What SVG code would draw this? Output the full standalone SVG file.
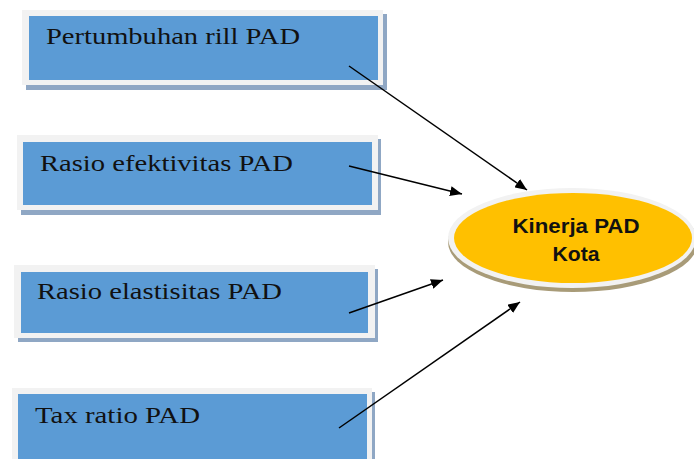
<svg xmlns="http://www.w3.org/2000/svg" width="694" height="459" viewBox="0 0 694 459">
<defs>
<marker id="ah" viewBox="0 0 12 10" refX="12" refY="5" markerWidth="12" markerHeight="10" markerUnits="userSpaceOnUse" orient="auto">
<path d="M0,0 L12,5 L0,10 Z" fill="#000"/>
</marker>
</defs>
<style>
.shadow{fill:#8FA7C4}
.frame{fill:#F2F2F2}
.box{fill:#5B9BD5}
.lbl{font-family:"Liberation Serif","Times New Roman",serif;font-size:24px;fill:#111}
.conn{stroke:#000;stroke-width:1.5;fill:none;marker-end:url(#ah)}
.ell{font-family:"Liberation Sans",Arial,sans-serif;font-weight:bold;font-size:20px;fill:#111;text-anchor:middle}
</style>
<rect width="694" height="459" fill="#fff"/>
<g id="n1">
<rect class="shadow" x="26" y="14" width="361" height="76"/>
<rect class="frame" x="22" y="10" width="361" height="75"/>
<rect class="box" x="29" y="16" width="349" height="64"/>
<text class="lbl" x="46" y="44" textLength="254" lengthAdjust="spacingAndGlyphs">Pertumbuhan rill PAD</text>
</g>
<g id="n2">
<rect class="shadow" x="21" y="139" width="360" height="76"/>
<rect class="frame" x="17" y="135" width="361" height="75"/>
<rect class="box" x="23" y="142" width="349" height="63"/>
<text class="lbl" x="40" y="171" textLength="253" lengthAdjust="spacingAndGlyphs">Rasio efektivitas PAD</text>
</g>
<g id="n3">
<rect class="shadow" x="18" y="269" width="360" height="73"/>
<rect class="frame" x="14" y="265" width="361" height="73"/>
<rect class="box" x="21" y="272" width="347" height="61"/>
<text class="lbl" x="37" y="299" textLength="245" lengthAdjust="spacingAndGlyphs">Rasio elastisitas PAD</text>
</g>
<g id="n4">
<rect class="shadow" x="16" y="392" width="359" height="70"/>
<rect class="frame" x="12" y="388" width="360" height="75"/>
<rect class="box" x="18" y="394" width="349" height="70"/>
<text class="lbl" x="35" y="423" textLength="165" lengthAdjust="spacingAndGlyphs">Tax ratio PAD</text>
</g>
<g id="n5">
<ellipse cx="573" cy="242" rx="125" ry="50" fill="#A89B78"/>
<ellipse cx="572" cy="238" rx="124" ry="50" fill="#F2F2F2"/>
<ellipse cx="573" cy="238" rx="119" ry="45" fill="#FFC000"/>
<text class="ell" x="576" y="233" textLength="127" lengthAdjust="spacingAndGlyphs">Kinerja PAD</text>
<text class="ell" x="576" y="261" textLength="47" lengthAdjust="spacingAndGlyphs">Kota</text>
</g>
<g id="connectors">
<line class="conn" x1="349" y1="66" x2="527" y2="190"/>
<line class="conn" x1="349" y1="166" x2="462" y2="194"/>
<line class="conn" x1="349" y1="313" x2="443" y2="280"/>
<line class="conn" x1="339" y1="428" x2="520" y2="302"/>
</g>
</svg>
